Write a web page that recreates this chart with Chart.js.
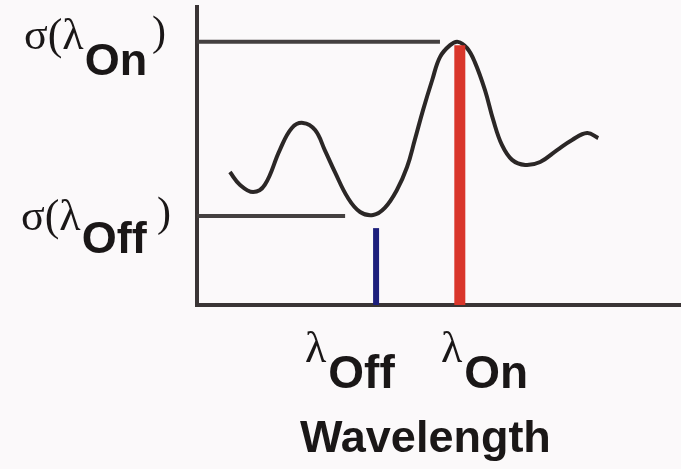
<!DOCTYPE html>
<html lang="en">
<head>
    <meta charset="UTF-8">
    <title>Absorption cross section - On / Off wavelengths</title>
    <script src="https://cdn.jsdelivr.net/npm/chart.js"></script>
    <style>
        html, body {
            margin: 0;
            padding: 0;
            background-color: #fbf9fa;
        }
        canvas {
            display: block;
        }
    </style>
</head>
<body>
    <canvas id="sigmaChart" width="681" height="469"></canvas>

    <script>
        // absorption curve (arbitrary units 0-100)
        var curveX = [6.8, 8.9, 11.6, 14.0, 17.1, 19.6, 21.9, 24.4, 26.4, 28.5, 31.2, 33.7, 36.4, 38.8, 41.3, 43.4, 45.0, 46.7, 48.6, 50.2, 52.3, 53.9, 55.8, 57.4, 59.5, 61.2, 63.0, 65.1, 67.8, 70.9, 74.4, 77.5, 80.6, 82.9];
        var curveY = [44.6, 40.3, 37.9, 40.3, 52.0, 59.4, 61.1, 58.7, 52.0, 44.6, 35.9, 31.2, 30.2, 32.6, 38.6, 46.3, 55.4, 65.4, 75.5, 83.2, 87.2, 88.3, 86.2, 81.5, 72.1, 62.1, 53.7, 48.7, 47.0, 48.0, 52.0, 55.4, 57.7, 56.0];

        // the two laser wavelengths
        var markerNames = ['Off', 'On'];
        var markerX = [37.0, 54.3];
        var markerTop = [25.8, 87.2];
        var sigmaLevel = [29.9, 88.3];   // σ(λ) at each wavelength
        var sigmaLineEnd = [30.6, 50.2]; // how far the level lines run

        var ink = '#2b2726';

        var datasets = [];

        // level lines from the y axis
        markerNames.forEach(function (name, i) {
            datasets.push({
                label: 'σ(λ' + name + ')',
                data: [{ x: 0, y: sigmaLevel[i] }, { x: sigmaLineEnd[i], y: sigmaLevel[i] }],
                borderColor: '#444040',
                borderWidth: 4,
                pointRadius: 0,
                showLine: true
            });
        });

        // the two bars
        var barColors = ['#1d1f7c', '#d9362b'];
        var barWidths = [6, 11];
        markerNames.forEach(function (name, i) {
            datasets.push({
                label: 'λ' + name,
                data: [{ x: markerX[i], y: 0 }, { x: markerX[i], y: markerTop[i] }],
                borderColor: barColors[i],
                borderWidth: barWidths[i],
                borderCapStyle: 'butt',
                pointRadius: 0,
                showLine: true
            });
        });

        // curve last so it sits on top of the red bar
        datasets.push({
            label: 'σ(λ)',
            data: curveX.map(function (x, i) { return { x: x, y: curveY[i] }; }),
            borderColor: ink,
            borderWidth: 4,
            pointRadius: 0,
            showLine: true,
            tension: 0.4
        });

        var labelPlugin = {
            id: 'labels',
            afterDraw: function (chart) {
                var ctx = chart.ctx;
                var serif = '"Liberation Serif", "DejaVu Serif", serif';
                var sans = '"Liberation Sans", Arial, sans-serif';
                ctx.save();
                ctx.fillStyle = '#1a1717';
                ctx.textBaseline = 'alphabetic';
                ctx.textAlign = 'left';

                // y axis labels
                var yLab = [
                    { base: 230, sub: 253, x: 21, close: 157 },
                    { base: 49, sub: 75, x: 24, close: 152 }
                ];
                markerNames.forEach(function (name, i) {
                    var p = yLab[i];
                    ctx.font = '44px ' + serif;
                    ctx.fillText('σ(λ', p.x, p.base);
                    var w = ctx.measureText('σ(λ').width;
                    ctx.font = 'bold 45px ' + sans;
                    ctx.fillText(name, p.x + w + 1, p.sub);
                    ctx.font = '42px ' + serif;
                    ctx.fillText(')', p.close, p.base - 4);
                });

                // x axis labels under each bar
                var xLab = [305, 441];
                markerNames.forEach(function (name, i) {
                    ctx.font = '44px ' + serif;
                    ctx.fillText('λ', xLab[i], 362);
                    var w = ctx.measureText('λ').width;
                    ctx.font = 'bold 46px ' + sans;
                    ctx.fillText(name, xLab[i] + w + 2, 388);
                });

                ctx.font = 'bold 45px ' + sans;
                ctx.fillText('Wavelength', 300, 452);
                ctx.restore();
            }
        };

        var chart = new Chart(document.getElementById('sigmaChart').getContext('2d'), {
            type: 'scatter',
            data: { datasets: datasets },
            options: {
                responsive: false,
                animation: false,
                layout: { padding: { left: 197, right: 0, top: 7, bottom: 164 } },
                plugins: {
                    legend: { display: false },
                    tooltip: { enabled: false }
                },
                elements: { line: { fill: false } },
                scales: {
                    x: {
                        type: 'linear',
                        min: 0,
                        max: 100,
                        grid: { display: false, drawTicks: false },
                        ticks: { display: false },
                        border: { display: true, color: '#3a3535', width: 4 }
                    },
                    y: {
                        type: 'linear',
                        min: 0,
                        max: 100,
                        grid: { display: false, drawTicks: false },
                        ticks: { display: false },
                        border: { display: true, color: '#3a3535', width: 4 }
                    }
                }
            },
            plugins: [labelPlugin]
        });
    </script>
</body>
</html>
